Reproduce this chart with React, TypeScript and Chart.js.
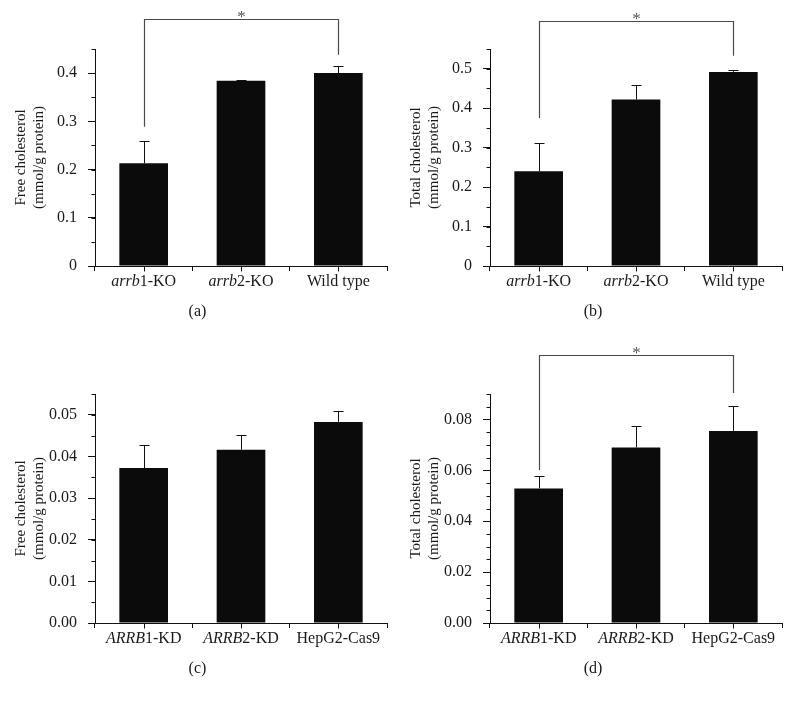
import React, { useEffect, useRef } from 'react';
import { Chart, registerables } from 'chart.js';
Chart.register(...registerables);

const FONT = '"Liberation Serif", "Times New Roman", serif';

// ---- data ----
const categoriesMouse = ['arrb1-KO', 'arrb2-KO', 'Wild type'];
const italicMouse = ['arrb', 'arrb', ''];
const categoriesHuman = ['ARRB1-KD', 'ARRB2-KD', 'HepG2-Cas9'];
const italicHuman = ['ARRB', 'ARRB', ''];

const freeCholMouse = [0.213, 0.384, 0.4];
const freeCholMouseErr = [0.047, 0.002, 0.014];
const totalCholMouse = [0.24, 0.422, 0.492];
const totalCholMouseErr = [0.072, 0.036, 0.005];
const freeCholHuman = [0.0372, 0.0416, 0.0483];
const freeCholHumanErr = [0.0055, 0.0036, 0.0027];
const totalCholHuman = [0.0529, 0.069, 0.0755];
const totalCholHumanErr = [0.0047, 0.0086, 0.0097];

const ticksA = [0, 0.1, 0.2, 0.3, 0.4];
const tickLabelsA = ['0', '0.1', '0.2', '0.3', '0.4'];
const ticksB = [0, 0.1, 0.2, 0.3, 0.4, 0.5];
const tickLabelsB = ['0', '0.1', '0.2', '0.3', '0.4', '0.5'];
const ticksC = [0, 0.01, 0.02, 0.03, 0.04, 0.05];
const tickLabelsC = ['0.00', '0.01', '0.02', '0.03', '0.04', '0.05'];
const ticksD = [0, 0.02, 0.04, 0.06, 0.08];
const tickLabelsD = ['0.00', '0.02', '0.04', '0.06', '0.08'];

// significance brackets: [fromIndex, toIndex, leftLegBottom, rightLegBottom, top]
const bracketA = [0, 2, 0.289, 0.438, 0.512];
const bracketB = [0, 2, 0.375, 0.533, 0.622];
const bracketD = [0, 2, 0.0601, 0.0904, 0.1054];

type PanelCfg = {
  left: number; top: number; width: number; height: number;
  padTop: number; padRight: number; xHeight: number;
  yMax: number; minorStep: number;
  ticks: number[]; tickLabels: string[];
  categories: string[]; italic: string[];
  values: number[]; errors: number[];
  title: string[]; label: string;
  bracket: number[] | null;
};

const panels: PanelCfg[] = [
  {
    left: 0, top: 0, width: 395, height: 330, padTop: 49, padRight: 8, xHeight: 64,
    yMax: 0.45, minorStep: 0.05, ticks: ticksA, tickLabels: tickLabelsA,
    categories: categoriesMouse, italic: italicMouse,
    values: freeCholMouse, errors: freeCholMouseErr,
    title: ['Free cholesterol', '(mmol/g protein)'], label: '(a)', bracket: bracketA,
  },
  {
    left: 395, top: 0, width: 396, height: 330, padTop: 49, padRight: 9, xHeight: 64,
    yMax: 0.55, minorStep: 0.05, ticks: ticksB, tickLabels: tickLabelsB,
    categories: categoriesMouse, italic: italicMouse,
    values: totalCholMouse, errors: totalCholMouseErr,
    title: ['Total cholesterol', '(mmol/g protein)'], label: '(b)', bracket: bracketB,
  },
  {
    left: 0, top: 330, width: 395, height: 375, padTop: 64, padRight: 8, xHeight: 82,
    yMax: 0.055, minorStep: 0.005, ticks: ticksC, tickLabels: tickLabelsC,
    categories: categoriesHuman, italic: italicHuman,
    values: freeCholHuman, errors: freeCholHumanErr,
    title: ['Free cholesterol', '(mmol/g protein)'], label: '(c)', bracket: null,
  },
  {
    left: 395, top: 330, width: 396, height: 375, padTop: 64, padRight: 9, xHeight: 82,
    yMax: 0.09, minorStep: 0.005, ticks: ticksD, tickLabels: tickLabelsD,
    categories: categoriesHuman, italic: italicHuman,
    values: totalCholHuman, errors: totalCholHumanErr,
    title: ['Total cholesterol', '(mmol/g protein)'], label: '(d)', bracket: bracketD,
  },
];

const annotPlugin = {
  id: 'annot',
  afterDraw(chart: any, _args: any, opts: any) {
    const cfg: PanelCfg = opts.cfg;
    const { ctx, chartArea } = chart;
    const xs = chart.scales.x;
    const ys = chart.scales.y;
    ctx.save();
    ctx.strokeStyle = '#111';
    ctx.lineWidth = 1;

    // minor y ticks
    const n = Math.round(cfg.yMax / cfg.minorStep);
    const axX = Math.round(chartArea.left) + 0.5;
    for (let i = 0; i <= n; i++) {
      const v = i * cfg.minorStep;
      const y = Math.round(ys.getPixelForValue(v)) + 0.5;
      ctx.beginPath();
      ctx.moveTo(axX - 4, y);
      ctx.lineTo(axX, y);
      ctx.stroke();
    }

    // center x ticks
    const axY = Math.round(chartArea.bottom) + 0.5;
    for (let i = 0; i < cfg.categories.length; i++) {
      const x = Math.round(xs.getPixelForValue(i)) + 0.5;
      ctx.beginPath();
      ctx.moveTo(x, axY);
      ctx.lineTo(x, axY + 5);
      ctx.stroke();
    }

    // error bars
    const meta = chart.getDatasetMeta(0);
    meta.data.forEach((el: any, i: number) => {
      const x = Math.round(el.x) + 0.5;
      const yTop = Math.round(ys.getPixelForValue(cfg.values[i] + cfg.errors[i])) + 0.5;
      ctx.beginPath();
      ctx.moveTo(x, el.y);
      ctx.lineTo(x, yTop);
      ctx.moveTo(x - 5, yTop);
      ctx.lineTo(x + 5, yTop);
      ctx.stroke();
    });

    // x category labels with italic gene part
    ctx.fillStyle = '#1a1a1a';
    ctx.textBaseline = 'middle';
    ctx.textAlign = 'left';
    const ly = chartArea.bottom + 16;
    cfg.categories.forEach((lab, i) => {
      const it = cfg.italic[i];
      const rest = lab.slice(it.length);
      ctx.font = `italic 16px ${FONT}`;
      const wi = it ? ctx.measureText(it).width : 0;
      ctx.font = `16px ${FONT}`;
      const wr = ctx.measureText(rest).width;
      const cx = xs.getPixelForValue(i);
      let x0 = cx - (wi + wr) / 2;
      if (it) {
        ctx.font = `italic 16px ${FONT}`;
        ctx.fillText(it, x0, ly);
        x0 += wi;
      }
      ctx.font = `16px ${FONT}`;
      ctx.fillText(rest, x0, ly);
    });

    // panel label
    ctx.textAlign = 'center';
    ctx.font = `16px ${FONT}`;
    ctx.fillText(cfg.label, chart.width / 2, chartArea.bottom + 46);

    // significance bracket
    if (cfg.bracket) {
      const [f, t, lb, rb, tp] = cfg.bracket;
      const x1 = Math.round(xs.getPixelForValue(f)) + 0.5;
      const x2 = Math.round(xs.getPixelForValue(t)) + 0.5;
      const yl = ys.getPixelForValue(lb);
      const yr = ys.getPixelForValue(rb);
      const yt = Math.round(ys.getPixelForValue(tp)) + 0.5;
      ctx.strokeStyle = '#4a4a4a';
      ctx.lineWidth = 1.2;
      ctx.beginPath();
      ctx.moveTo(x1, yl);
      ctx.lineTo(x1, yt);
      ctx.lineTo(x2, yt);
      ctx.lineTo(x2, yr);
      ctx.stroke();
      ctx.fillStyle = '#555';
      ctx.font = `17px ${FONT}`;
      ctx.textAlign = 'center';
      ctx.textBaseline = 'alphabetic';
      ctx.fillText('*', (x1 + x2) / 2, yt + 2);
    }
    ctx.restore();
  },
};

function Panel({ cfg }: { cfg: PanelCfg }) {
  const ref = useRef<HTMLCanvasElement | null>(null);
  useEffect(() => {
    if (!ref.current) return;
    const chart = new Chart(ref.current, {
      type: 'bar',
      data: {
        labels: cfg.categories,
        datasets: [
          {
            data: cfg.values,
            backgroundColor: '#0b0b0b',
            borderColor: '#0b0b0b',
            borderWidth: 0,
            barPercentage: 0.5,
            categoryPercentage: 1,
          },
        ],
      },
      plugins: [annotPlugin],
      options: {
        responsive: false,
        animation: false,
        layout: { padding: { top: cfg.padTop, right: cfg.padRight, left: 0, bottom: 0 } },
        plugins: {
          legend: { display: false },
          tooltip: { enabled: false },
          annot: { cfg },
        } as any,
        scales: {
          x: {
            type: 'category',
            offset: true,
            grid: {
              display: true,
              drawOnChartArea: false,
              drawTicks: true,
              tickLength: 5,
              color: '#111',
              offset: true,
            },
            border: { display: true, color: '#111', width: 1 },
            ticks: { display: false },
            afterFit: (s: any) => { s.height = cfg.xHeight; },
          },
          y: {
            type: 'linear',
            min: 0,
            max: cfg.yMax,
            grid: {
              display: true,
              drawOnChartArea: false,
              drawTicks: true,
              tickLength: 7,
              color: '#111',
            },
            border: { display: true, color: '#111', width: 1 },
            afterBuildTicks: (s: any) => { s.ticks = cfg.ticks.map((v) => ({ value: v })); },
            ticks: {
              padding: 11,
              color: '#1a1a1a',
              font: { family: FONT, size: 16 },
              callback: (_v: any, i: number) => cfg.tickLabels[i],
            },
            title: {
              display: true,
              text: cfg.title,
              color: '#1a1a1a',
              font: { family: FONT, size: 15, lineHeight: 1.2 },
              padding: { top: 12, bottom: 0 },
            },
            afterFit: (s: any) => { s.width = 95; },
          },
        },
      } as any,
    });
    return () => chart.destroy();
  }, [cfg]);
  return (
    <canvas
      ref={ref}
      width={cfg.width}
      height={cfg.height}
      style={{ position: 'absolute', left: cfg.left, top: cfg.top, width: cfg.width, height: cfg.height }}
    />
  );
}

export default function App() {
  return (
    <div style={{ position: 'absolute', left: 0, top: 0, width: 791, height: 705, background: '#fff' }}>
      {panels.map((p, i) => (
        <Panel key={i} cfg={p} />
      ))}
    </div>
  );
}
